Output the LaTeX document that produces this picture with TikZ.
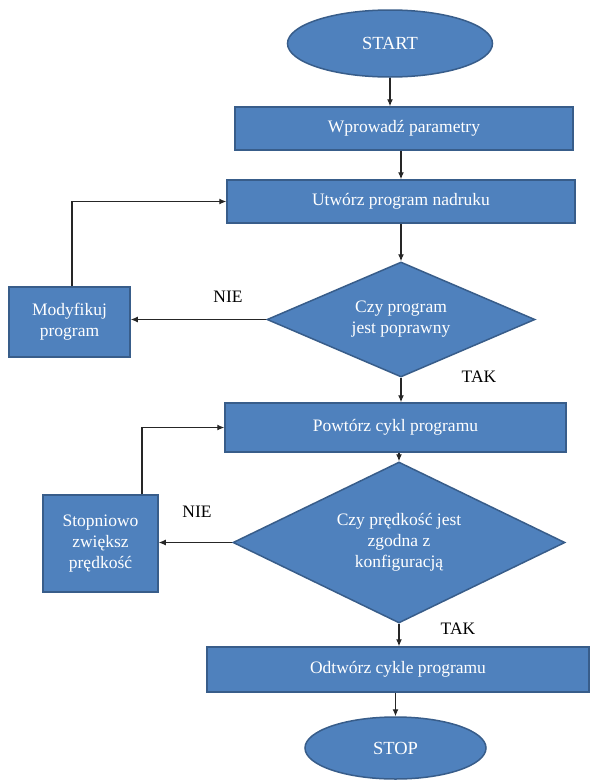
\documentclass[tikz,border=0pt]{standalone}
\usepackage{fontspec}
\setmainfont{Liberation Serif}
\newfontfamily\diagfont{Liberation Serif}
\usetikzlibrary{shapes.geometric,arrows.meta}
\definecolor{boxfill}{HTML}{4F81BD}
\definecolor{boxline}{HTML}{385D8A}
\begin{document}
\begin{tikzpicture}[x=1pt,y=-1pt,
  every node/.style={font=\diagfont\fontsize{17.5}{21}\selectfont},
  blk/.style={draw=boxline,line width=1.5pt,fill=boxfill,text=white,align=center,inner sep=0pt},
  procbox/.style={blk,rectangle},
  termbox/.style={blk,ellipse,font=\diagfont\fontsize{18.5}{21}\selectfont},
  decbox/.style={blk,diamond},
  lbl/.style={text=black,inner sep=0pt},
  arr/.style={draw=black!85,line width=1.1pt,-{Latex[length=7pt,width=6pt]}}]
\useasboundingbox (0,0) rectangle (590,780);
\fill[white] (0,0) rectangle (590,780);

\node[termbox,minimum width=205pt,minimum height=67pt] (start) at (390,43.5) {START};
\node[procbox,minimum width=338pt,minimum height=43pt] (wp) at (404,128.5) {Wprowadź parametry};
\node[procbox,minimum width=348pt,minimum height=43pt] (ut) at (401,201.5) {Utwórz program nadruku};
\node[decbox,shape aspect=2.33,minimum width=268pt,minimum height=115pt] (d1) at (401,319.5) {Czy program\\jest poprawny};
\node[procbox,minimum width=121pt,minimum height=70pt] (mod) at (69.5,322) {Modyfikuj\\program};
\node[procbox,minimum width=341pt,minimum height=49pt] (pw) at (395.5,427.5) {Powtórz cykl programu};
\node[decbox,shape aspect=2.06,minimum width=332pt,minimum height=161pt] (d2) at (399,542.5) {Czy prędkość jest\\zgodna z\\konfiguracją};
\node[procbox,minimum width=115pt,minimum height=97pt] (st) at (100.5,543.5) {Stopniowo\\zwiększ\\prędkość};
\node[procbox,minimum width=382pt,minimum height=45pt] (od) at (398,669.5) {Odtwórz cykle programu};
\node[termbox,minimum width=181pt,minimum height=62pt] (stop) at (395.5,748) {STOP};

\node[lbl] (nie1) at (228,297) {NIE};
\node[lbl] (tak1) at (479,377) {TAK};
\node[lbl] (nie2) at (197,512) {NIE};
\node[lbl] (tak2) at (458,629) {TAK};

\draw[arr] (start.south) -- (start.south |- wp.north);
\draw[arr] (d1.north |- wp.south) -- (d1.north |- ut.north);
\draw[arr] (d1.north |- ut.south) -- (d1.north);
\draw[arr] (d1.west) -- (d1.west -| mod.east);
\draw[arr] ([xshift=2.5pt]mod.north) |- (ut.west);
\draw[arr] (d1.south) -- (d1.south |- pw.north);
\draw[arr] (d2.north |- pw.south) -- (d2.north);
\draw[arr] (d2.west) -- (d2.west -| st.east);
\draw[arr] ([xshift=41.5pt]st.north) |- (pw.west);
\draw[arr] (d2.south) -- (d2.south |- od.north);
\draw[arr] (stop.north |- od.south) -- (stop.north);
\end{tikzpicture}
\end{document}
